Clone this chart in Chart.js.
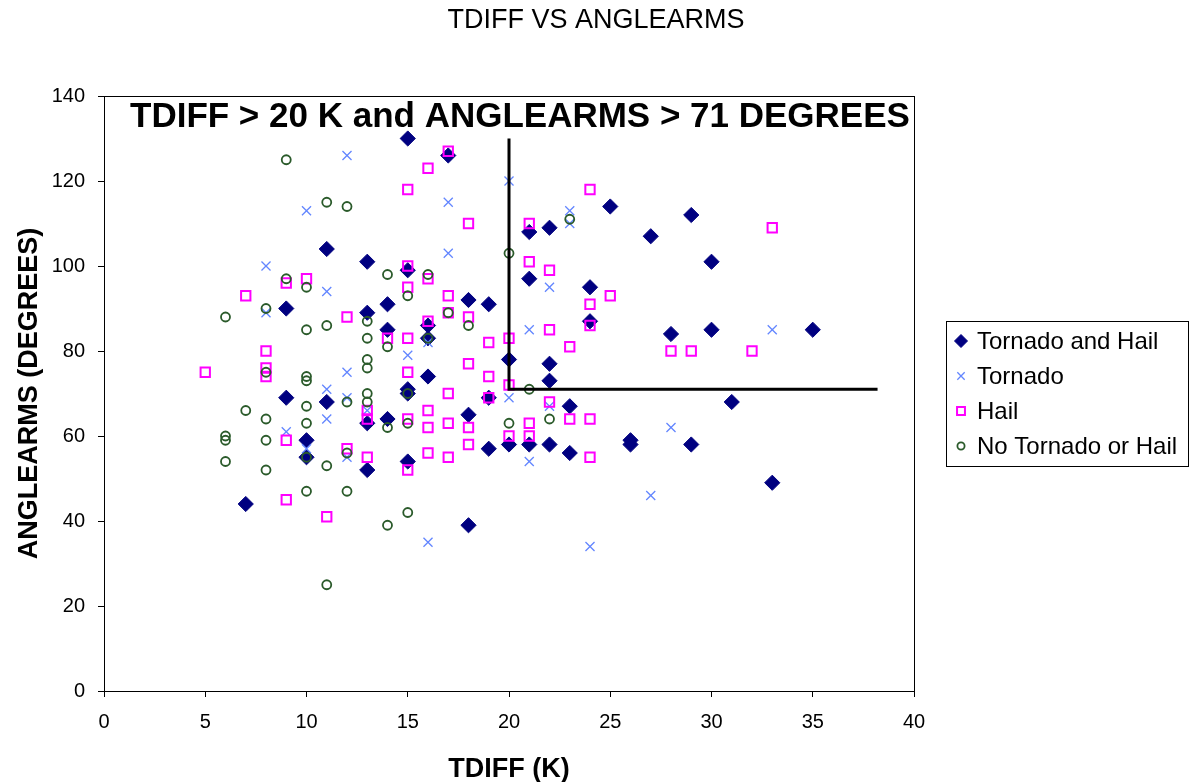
<!DOCTYPE html>
<html>
<head>
<meta charset="utf-8">
<script src="https://cdn.jsdelivr.net/npm/chart.js@4.4.1/dist/chart.umd.min.js"></script>
<style>
html,body{margin:0;padding:0;background:#fff;}
#wrap{width:1190px;height:782px;position:relative;}
canvas{display:block;}
</style>
</head>
<body>
<div id="wrap"><canvas id="c" width="1190" height="782"></canvas></div>
<script>
// ---- data ----
const chartTitle = 'TDIFF VS ANGLEARMS';
const xAxisTitle = 'TDIFF (K)';
const yAxisTitle = 'ANGLEARMS (DEGREES)';
const noteText = 'TDIFF > 20 K and ANGLEARMS > 71 DEGREES';
const seriesNames = ['Tornado and Hail', 'Tornado', 'Hail', 'No Tornado or Hail'];

const tornadoHailX = [7,9,9,10,10,11,11,13,13,13,13,14,14,14,15,15,15,15,15,16,16,16,17,18,18,18,19,19,19,20,20,21,21,21,22,22,22,22,23,23,24,24,25,26,26,27,28,29,29,30,30,31,33,35];
const tornadoHailY = [44,90,69,59,55,104,68,101,89,63,52,91,85,64,130,99,71,70,54,86,83,74,126,92,65,39,91,69,57,78,58,108,97,58,109,77,73,58,67,56,95,87,114,59,58,107,84,112,58,101,85,68,49,85];

const tornadoX = [8,8,9,10,10,11,11,11,12,12,12,12,13,15,16,16,17,17,20,20,21,21,22,22,23,23,24,27,28,33];
const tornadoY = [100,89,61,113,57,94,71,64,126,75,69,55,66,79,82,35,115,103,120,69,85,54,95,67,113,110,34,46,62,85];

const hailX = [5,7,8,8,8,9,9,9,10,11,12,12,13,13,13,14,15,15,15,15,15,15,15,16,16,16,16,16,16,17,17,17,17,17,17,18,18,18,18,18,19,19,19,20,20,20,21,21,21,21,22,22,22,23,23,24,24,24,24,24,25,28,29,32,33];
const hailY = [75,93,80,76,74,96,59,45,97,41,88,57,64,66,55,83,118,100,95,83,75,64,52,123,97,87,66,62,56,127,93,89,70,63,55,110,88,77,62,58,82,74,69,83,72,60,110,101,63,60,99,85,68,81,64,118,91,86,64,55,93,80,80,80,109];

const noneX = [6,6,6,6,7,8,8,8,8,8,9,9,10,10,10,10,10,10,10,10,11,11,11,11,12,12,12,12,13,13,13,13,13,13,14,14,14,14,15,15,15,15,16,16,17,18,20,20,21,22,23];
const noneY = [88,60,59,54,66,90,75,64,59,52,125,97,95,85,74,73,67,63,55,47,115,86,53,25,114,68,56,47,87,83,78,76,70,68,98,81,62,39,93,70,63,42,98,83,89,86,103,63,71,64,111];

// threshold guide lines (TDIFF = 20, ANGLEARMS = 71)
const thresholdX = [20, 20, 38.2];
const thresholdY = [130, 71, 71];

const xMin = 0, xMax = 40, xStep = 5;
const yMin = 0, yMax = 140, yStep = 20;

// ---- chart ----
const FONT = 'Arial, "Liberation Sans", Helvetica, sans-serif';
Chart.defaults.font.family = FONT;
Chart.defaults.color = '#000';

function pts(xs, ys) { return xs.map((x, i) => ({ x: x, y: ys[i] })); }

const datasets = [
  {
    type: 'line', label: 'threshold', data: pts(thresholdX, thresholdY),
    borderColor: '#000', borderWidth: 3, pointRadius: 0, showLine: true, fill: false,
    order: 1, legendSkip: true
  },
  {
    label: seriesNames[0], data: pts(tornadoHailX, tornadoHailY),
    pointStyle: 'rectRot', pointRadius: 7.6, backgroundColor: '#000080', borderColor: '#000080', borderWidth: 1,
    order: 5, legendRadius: 6.5
  },
  {
    label: seriesNames[1], data: pts(tornadoX, tornadoY),
    pointStyle: 'crossRot', pointRadius: 6.4, backgroundColor: '#6386ff', borderColor: '#6386ff', borderWidth: 1.3,
    order: 4, legendRadius: 5.2
  },
  {
    label: seriesNames[2], data: pts(hailX, hailY),
    pointStyle: 'rect', pointRadius: 6.6, backgroundColor: 'rgba(0,0,0,0)', borderColor: '#ff00ff', borderWidth: 2,
    order: 3, legendRadius: 5.6
  },
  {
    label: seriesNames[3], data: pts(noneX, noneY),
    pointStyle: 'circle', pointRadius: 4.5, backgroundColor: 'rgba(0,0,0,0)', borderColor: '#2a5a2a', borderWidth: 1.8,
    order: 2, legendRadius: 3.6
  }
];

const titlePlugin = {
  id: 'centerTitle',
  afterDraw(chart) {
    const { ctx, width } = chart;
    ctx.save();
    ctx.font = '27px ' + FONT;
    ctx.fillStyle = '#000';
    ctx.textAlign = 'center';
    ctx.textBaseline = 'middle';
    ctx.fillText(chartTitle, width / 2 + 1, 21);
    ctx.restore();
  }
};

const framePlugin = {
  id: 'frame',
  beforeDatasetsDraw(chart) {
    const { ctx, chartArea: a } = chart;
    ctx.save();
    ctx.strokeStyle = '#000';
    ctx.lineWidth = 1;
    ctx.strokeRect(Math.round(a.left) + 0.5, Math.round(a.top) + 0.5,
                   Math.round(a.right - a.left), Math.round(a.bottom - a.top));
    ctx.restore();
  }
};

const notePlugin = {
  id: 'note',
  afterDatasetsDraw(chart) {
    const { ctx, chartArea: a } = chart;
    ctx.save();
    ctx.font = 'bold 35px ' + FONT;
    ctx.fillStyle = '#000';
    ctx.textAlign = 'left';
    ctx.textBaseline = 'middle';
    ctx.fillText(noteText, a.left + 26, a.top + 21.5);
    ctx.restore();
  }
};

const legendPlugin = {
  id: 'boxLegend',
  afterDraw(chart) {
    const { ctx } = chart;
    const items = chart.data.datasets.filter(d => !d.legendSkip);
    const left = 946, top = 321, w = 243, h = 146, rowH = 35;
    ctx.save();
    ctx.fillStyle = '#fff';
    ctx.fillRect(left, top, w, h);
    ctx.strokeStyle = '#000';
    ctx.lineWidth = 1;
    ctx.strokeRect(left + 0.5, top + 0.5, w - 1, h - 1);
    ctx.font = '24px ' + FONT;
    ctx.textAlign = 'left';
    ctx.textBaseline = 'middle';
    items.forEach((d, i) => {
      const cy = top + 20 + i * rowH;
      ctx.save();
      ctx.fillStyle = d.backgroundColor;
      ctx.strokeStyle = d.borderColor;
      ctx.lineWidth = d.borderWidth;
      Chart.helpers.drawPoint(ctx, { pointStyle: d.pointStyle, radius: d.legendRadius, borderWidth: d.borderWidth, rotation: 0 }, left + 15, cy);
      ctx.restore();
      ctx.fillStyle = '#000';
      ctx.fillText(d.label, left + 31, cy + 1);
    });
    ctx.restore();
  }
};

const axisGrid = { display: true, drawOnChartArea: false, drawTicks: true, tickLength: 6, color: '#000', tickColor: '#000', lineWidth: 1 };

new Chart(document.getElementById('c'), {
  type: 'scatter',
  data: { datasets: datasets },
  options: {
    responsive: false,
    animation: false,
    events: [],
    devicePixelRatio: 1,
    layout: { padding: { left: 0, right: 276, top: 96, bottom: 0 } },
    plugins: {
      legend: { display: false },
      tooltip: { enabled: false },
      title: { display: false }
    },
    scales: {
      x: {
        type: 'linear', min: xMin, max: xMax,
        ticks: { stepSize: xStep, font: { size: 20 }, color: '#000', padding: 13, maxRotation: 0 },
        grid: axisGrid,
        border: { display: true, color: '#000', width: 1 },
        title: { display: true, text: xAxisTitle, font: { size: 27, weight: 'bold', lineHeight: 1 }, color: '#000', padding: { top: 0, bottom: -1 } },
        afterFit(scale) { scale.height = 91; }
      },
      y: {
        type: 'linear', min: yMin, max: yMax,
        ticks: { stepSize: yStep, font: { size: 20 }, color: '#000', padding: 13 },
        grid: axisGrid,
        border: { display: true, color: '#000', width: 1 },
        title: { display: true, text: yAxisTitle, font: { size: 27, weight: 'bold', lineHeight: 1 }, color: '#000', padding: { top: 16, bottom: 0 } },
        afterFit(scale) { scale.width = 104; }
      }
    }
  },
  plugins: [framePlugin, notePlugin, legendPlugin, titlePlugin]
});
</script>
</body>
</html>
